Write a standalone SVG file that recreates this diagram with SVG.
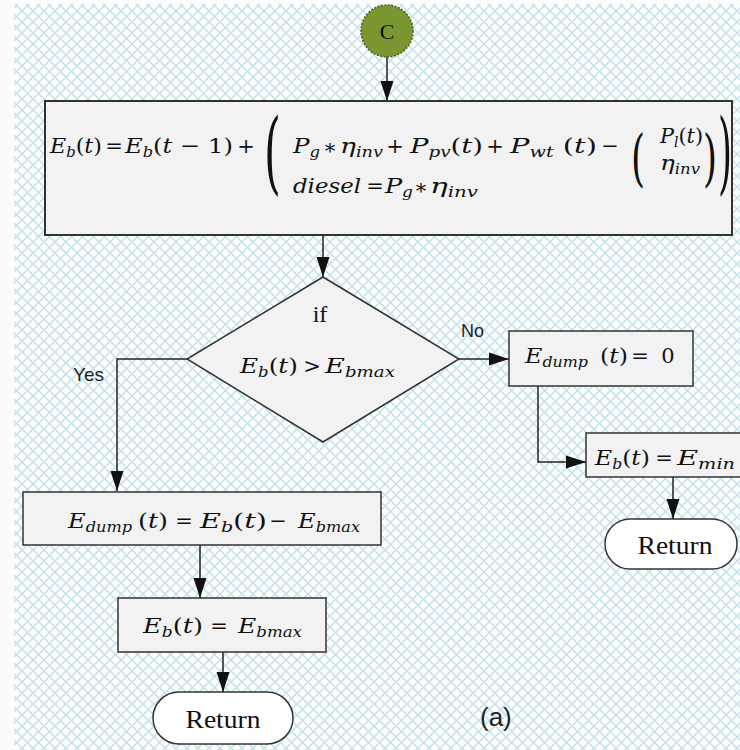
<svg xmlns="http://www.w3.org/2000/svg" width="740" height="750" viewBox="0 0 740 750">
<defs>
<pattern id="grid" patternUnits="userSpaceOnUse" width="11" height="11">
<rect width="11" height="11" fill="#ffffff"/>
<path d="M-1,-1 L12,12 M12,-1 L-1,12" stroke="#c2e1e9" stroke-width="1.5" fill="none"/>
</pattern>
<marker id="arr" markerUnits="userSpaceOnUse" markerWidth="22" markerHeight="16" refX="20" refY="7" orient="auto">
<path d="M0,0.5 L20,7 L0,13.5 z" fill="#111"/>
</marker>
<style>
.box{fill:#f2f2f2;stroke:#333;stroke-width:1.5}
.main{stroke-width:2}
.term{fill:#ffffff;stroke:#333;stroke-width:1.5}
.con{fill:none;stroke:#222;stroke-width:1.5;marker-end:url(#arr)}
.m{font-family:"DejaVu Serif","Liberation Serif",serif;font-style:italic;font-size:21px;fill:#111}
.u{font-family:"DejaVu Serif","Liberation Serif",serif;font-style:normal;font-size:21px;fill:#111}
.s{font-size:14px}
.p{font-family:"DejaVu Serif","Liberation Serif",serif;font-style:normal;font-size:36px;fill:#111}
.r{font-family:"Liberation Serif","Times New Roman",serif;fill:#111}
.lab{font-family:"Liberation Sans","Arial",sans-serif;fill:#222}
</style>
</defs>
<rect x="0" y="0" width="740" height="750" fill="#fcfcfc"/>
<rect x="14" y="4" width="726" height="746" fill="url(#grid)"/>

<g id="connectors">
<line class="con" x1="387" y1="57" x2="387" y2="101"/>
<line class="con" x1="323" y1="235" x2="323" y2="277"/>
<polyline class="con" points="187,359 117,359 117,491"/>
<line class="con" x1="459" y1="359" x2="509" y2="359"/>
<polyline class="con" points="538,386 538,462 586,462"/>
<line class="con" x1="673" y1="477" x2="673" y2="519"/>
<line class="con" x1="200" y1="545" x2="200" y2="598"/>
<line class="con" x1="223" y1="652" x2="223" y2="692"/>
<text class="lab" x="73" y="381" font-size="19">Yes</text>
<text class="lab" x="461" y="337" font-size="18">No</text>
</g>

<g id="n-start">
<circle cx="387" cy="31" r="26" fill="#7a9732" stroke="#4a5e1c" stroke-width="1.5" stroke-dasharray="2,1.5"/>
<text class="r" x="387" y="39" font-size="22" text-anchor="middle">C</text>
</g>

<g id="n-update">
<rect class="box main" x="45" y="101" width="687" height="134"/>
<text class="m" x="50" y="153" textLength="52" lengthAdjust="spacingAndGlyphs">E<tspan class="s" dy="4">b</tspan><tspan class="u" dy="-4">(</tspan>t<tspan class="u">)</tspan></text>
<text class="u" x="114" y="153" text-anchor="middle">=</text>
<text class="m" x="125" y="153" textLength="108" lengthAdjust="spacingAndGlyphs">E<tspan class="s" dy="4">b</tspan><tspan class="u" dy="-4">(</tspan>t<tspan class="u"> − 1)</tspan></text>
<text class="u" x="246" y="153" text-anchor="middle">+</text>
<text class="p" transform="translate(264,183) scale(1.2,2.5)">(</text>
<text class="m" x="293" y="153" textLength="27" lengthAdjust="spacingAndGlyphs">P<tspan class="s" dy="4">g</tspan></text>
<text class="u" x="330" y="158" text-anchor="middle">*</text>
<text class="m" x="340" y="153" textLength="43" lengthAdjust="spacingAndGlyphs">η<tspan class="s" dy="4">inv</tspan></text>
<text class="u" x="395" y="153" text-anchor="middle">+</text>
<text class="m" x="410" y="153" textLength="73" lengthAdjust="spacingAndGlyphs">P<tspan class="s" dy="4">pv</tspan><tspan class="u" dy="-4">(</tspan>t<tspan class="u">)</tspan></text>
<text class="u" x="495" y="153" text-anchor="middle">+</text>
<text class="m" x="510" y="153" textLength="87" lengthAdjust="spacingAndGlyphs">P<tspan class="s" dy="4">wt</tspan><tspan class="u" dy="-4"> (</tspan>t<tspan class="u">)</tspan></text>
<text class="u" x="610" y="153" text-anchor="middle">−</text>
<text class="p" transform="translate(631,179) scale(1,1.69)">(</text>
<text class="m" x="660" y="143" textLength="43" lengthAdjust="spacingAndGlyphs">P<tspan class="s" dy="4">l</tspan><tspan class="u" dy="-4">(</tspan>t<tspan class="u">)</tspan></text>
<text class="m" x="660" y="170" textLength="40" lengthAdjust="spacingAndGlyphs">η<tspan class="s" dy="4">inv</tspan></text>
<text class="p" transform="translate(703,179) scale(1,1.69)">)</text>
<text class="p" transform="translate(718,183) scale(1,2.5)">)</text>
<text class="m" x="293" y="193" textLength="68" lengthAdjust="spacingAndGlyphs">diesel</text>
<text class="u" x="375" y="193" text-anchor="middle">=</text>
<text class="m" x="385" y="193" textLength="28" lengthAdjust="spacingAndGlyphs">P<tspan class="s" dy="4">g</tspan></text>
<text class="u" x="421" y="198" text-anchor="middle">*</text>
<text class="m" x="430" y="193" textLength="48" lengthAdjust="spacingAndGlyphs">η<tspan class="s" dy="4">inv</tspan></text>
</g>

<g id="n-decision">
<polygon points="323,277 459,359 323,442 187,359" fill="#f2f2f2" stroke="#333" stroke-width="1.5"/>
<text class="r" x="320" y="322" font-size="24" text-anchor="middle">if</text>
<text class="m" x="240" y="373" textLength="58" lengthAdjust="spacingAndGlyphs">E<tspan class="s" dy="4">b</tspan><tspan class="u" dy="-4">(</tspan>t<tspan class="u">)</tspan></text>
<text class="u" x="312" y="373" text-anchor="middle">&gt;</text>
<text class="m" x="325" y="373" textLength="70" lengthAdjust="spacingAndGlyphs">E<tspan class="s" dy="4">bmax</tspan></text>
</g>

<g id="n-dump0">
<rect class="box" x="509" y="331" width="184" height="55"/>
<text class="m" x="525" y="363" textLength="63" lengthAdjust="spacingAndGlyphs">E<tspan class="s" dy="4">dump</tspan></text>
<text class="u" x="600" y="363" textLength="28" lengthAdjust="spacingAndGlyphs">(<tspan class="m">t</tspan>)</text>
<text class="u" x="640" y="363" text-anchor="middle">=</text>
<text class="u" x="668" y="363" text-anchor="middle">0</text>
</g>

<g id="n-ebmin">
<rect class="box" x="586" y="433" width="170" height="44"/>
<text class="m" x="595" y="465" textLength="55" lengthAdjust="spacingAndGlyphs">E<tspan class="s" dy="4">b</tspan><tspan class="u" dy="-4">(</tspan>t<tspan class="u">)</tspan></text>
<text class="u" x="664" y="465" text-anchor="middle">=</text>
<text class="m" x="677" y="465" textLength="58" lengthAdjust="spacingAndGlyphs">E<tspan class="s" dy="4">min</tspan></text>
</g>

<g id="n-return-right">
<rect class="term" x="605" y="519" width="132" height="50" rx="25" ry="25"/>
<text class="r" x="675" y="554" text-anchor="middle" font-size="26" textLength="75" lengthAdjust="spacingAndGlyphs">Return</text>
</g>

<g id="n-dump">
<rect class="box" x="23" y="492" width="358" height="53"/>
<text class="m" x="68" y="528" textLength="64" lengthAdjust="spacingAndGlyphs">E<tspan class="s" dy="4">dump</tspan></text>
<text class="u" x="138" y="528" textLength="30" lengthAdjust="spacingAndGlyphs">(<tspan class="m">t</tspan>)</text>
<text class="u" x="184" y="528" text-anchor="middle">=</text>
<text class="m" x="200" y="528" textLength="67" lengthAdjust="spacingAndGlyphs">E<tspan class="s" dy="4">b</tspan><tspan class="u" dy="-4">(</tspan>t<tspan class="u">)</tspan></text>
<text class="u" x="278" y="528" text-anchor="middle">−</text>
<text class="m" x="298" y="528" textLength="62" lengthAdjust="spacingAndGlyphs">E<tspan class="s" dy="4">bmax</tspan></text>
</g>

<g id="n-ebmax">
<rect class="box" x="118" y="598" width="208" height="54"/>
<text class="m" x="143" y="633" textLength="60" lengthAdjust="spacingAndGlyphs">E<tspan class="s" dy="4">b</tspan><tspan class="u" dy="-4">(</tspan>t<tspan class="u">)</tspan></text>
<text class="u" x="219" y="633" text-anchor="middle">=</text>
<text class="m" x="238" y="633" textLength="64" lengthAdjust="spacingAndGlyphs">E<tspan class="s" dy="4">bmax</tspan></text>
</g>

<g id="n-return-left">
<rect class="term" x="153" y="692" width="140" height="52" rx="26" ry="26"/>
<text class="r" x="223" y="728" text-anchor="middle" font-size="26" textLength="75" lengthAdjust="spacingAndGlyphs">Return</text>
</g>

<text class="lab" x="480" y="726" font-size="26">(a)</text>
</svg>
